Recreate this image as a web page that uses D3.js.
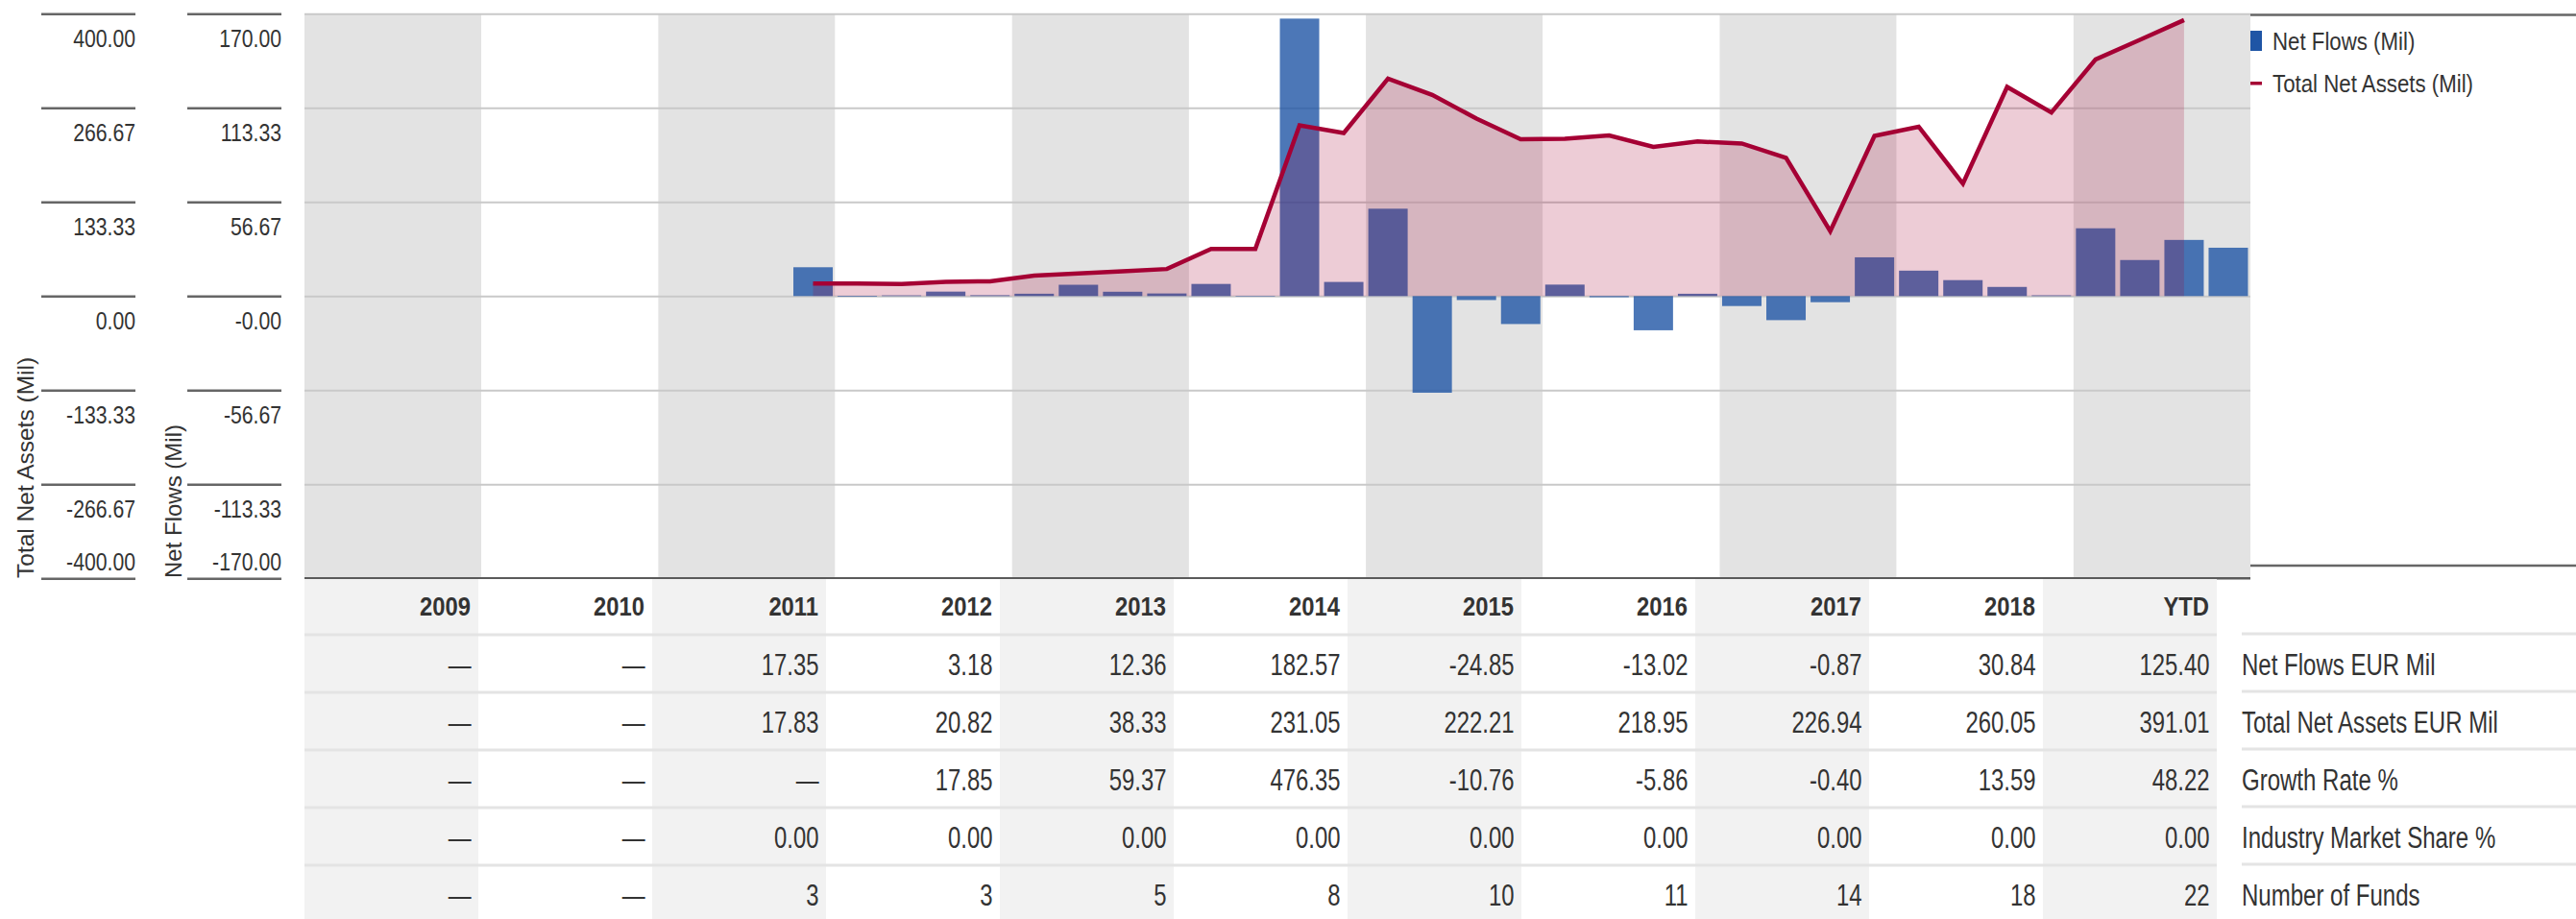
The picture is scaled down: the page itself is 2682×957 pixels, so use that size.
<!DOCTYPE html>
<html>
<head>
<meta charset="utf-8">
<script src="https://cdn.jsdelivr.net/npm/d3@7"></script>
<style>
  body { margin: 0; background: #fff; }
  svg text { font-family: "Liberation Sans", Arial, sans-serif; fill: #333; }
</style>
</head>
<body>
<div id="chart"></div>
<script>
// years shown as columns
var years = ["2009", "2010", "2011", "2012", "2013", "2014", "2015", "2016", "2017", "2018", "YTD"];

// quarterly net flows (EUR mil), one array of 4 per year
var netFlowsQ = [
  [null, null, null, null],
  [null, null, null, null],
  [null, null, null, 17.35],
  [-0.4, 0.4, 2.68, 0.5],
  [1.4, 6.8, 2.6, 1.56],
  [7.3, -0.3, 167.07, 8.5],
  [52.6, -58.2, -2.4, -16.85],
  [6.9, -0.7, -20.6, 1.38],
  [-6.0, -14.5, -3.7, 23.33],
  [15.3, 9.6, 5.5, 0.44],
  [40.8, 21.7, 33.8, 29.1]
];

// quarterly total net assets (EUR mil)
var tnaQ = [
  [null, null, null, null],
  [null, null, null, null],
  [null, null, null, 17.83],
  [17.6, 17.2, 20.3, 20.82],
  [29.0, 32.0, 35.0, 38.33],
  [66.8, 66.8, 242, 231.05],
  [308, 285, 251.5, 222.21],
  [222.7, 227.5, 211.4, 218.95],
  [216.2, 195.8, 92, 226.94],
  [239.9, 159.2, 296.4, 260.05],
  [335.3, 363, 391.01, null]
];

// axis ticks
var tnaTickValues = [400, 266.67, 133.33, 0, -133.33, -266.67, -400];
var tnaTickLabels = ["400.00", "266.67", "133.33", "0.00", "-133.33", "-266.67", "-400.00"];
var flowTickValues = [170, 113.33, 56.67, 0, -56.67, -113.33, -170];
var flowTickLabels = ["170.00", "113.33", "56.67", "-0.00", "-56.67", "-113.33", "-170.00"];

// table rows
var rowLabels = ["Net Flows EUR Mil", "Total Net Assets EUR Mil", "Growth Rate %", "Industry Market Share %", "Number of Funds"];
var tableNetFlows = ["—", "—", "17.35", "3.18", "12.36", "182.57", "-24.85", "-13.02", "-0.87", "30.84", "125.40"];
var tableTNA = ["—", "—", "17.83", "20.82", "38.33", "231.05", "222.21", "218.95", "226.94", "260.05", "391.01"];
var tableGrowth = ["—", "—", "—", "17.85", "59.37", "476.35", "-10.76", "-5.86", "-0.40", "13.59", "48.22"];
var tableShare = ["—", "—", "0.00", "0.00", "0.00", "0.00", "0.00", "0.00", "0.00", "0.00", "0.00"];
var tableFunds = ["—", "—", "3", "3", "5", "8", "10", "11", "14", "18", "22"];

var svgWidth = 2682;
var svgHeight = 957;

// plot area
var plot = { left: 317, right: 2343, top: 14.3, bottom: 602.3 };

var svg = d3.select("#chart")
  .append("svg")
  .attr("width", svgWidth)
  .attr("height", svgHeight);

// no condensed font installed, so squeeze Liberation Sans horizontally
function condensed(sel, x, y, sx) {
  sel.attr("x", 0).attr("y", 0)
    .attr("transform", `translate(${x}, ${y}) scale(${sx}, 1)`);
  return sel;
}

var xYear = d3.scaleBand()
  .domain(years)
  .range([plot.left, plot.right]);

var xQuarter = d3.scaleBand()
  .domain([0, 1, 2, 3])
  .range([0, xYear.bandwidth()])
  .paddingInner(0.11)
  .paddingOuter(0.055);

var yTna = d3.scaleLinear().domain([-400, 400]).range([plot.bottom, plot.top]);
var yFlow = d3.scaleLinear().domain([-170, 170]).range([plot.bottom, plot.top]);

// background bands
svg.append("g").selectAll("rect")
  .data(years)
  .enter()
  .append("rect")
  .attr("x", d => xYear(d))
  .attr("y", plot.top)
  .attr("width", xYear.bandwidth())
  .attr("height", plot.bottom - plot.top)
  .attr("fill", (d, i) => i % 2 === 0 ? "#e3e3e3" : "#ffffff");

// gridlines
var grid = svg.append("g")
  .attr("transform", `translate(${plot.left}, 0)`)
  .call(d3.axisLeft(yTna).tickValues(tnaTickValues.slice(0, 6)).tickSize(-(plot.right - plot.left)).tickFormat(""));
grid.select(".domain").remove();
grid.selectAll(".tick line").attr("stroke", "#c9c9c9").attr("stroke-width", 2);

// flatten quarterly data
var quarters = [];
years.forEach(function(y, i) {
  for (var q = 0; q < 4; q++) {
    quarters.push({ year: y, q: q, flow: netFlowsQ[i][q], tna: tnaQ[i][q] });
  }
});

function qCenter(d) {
  return xYear(d.year) + xQuarter(d.q) + xQuarter.bandwidth() / 2;
}

// net flow bars
svg.append("g").selectAll("rect")
  .data(quarters.filter(d => d.flow !== null))
  .enter()
  .append("rect")
  .attr("x", d => xYear(d.year) + xQuarter(d.q))
  .attr("width", xQuarter.bandwidth())
  .attr("y", d => yFlow(Math.max(0, d.flow)))
  .attr("height", d => Math.abs(yFlow(d.flow) - yFlow(0)))
  .attr("fill", "#1f55a5")
  .attr("opacity", 0.8);

// total net assets area + line
var tnaPoints = quarters.filter(d => d.tna !== null);

var area = d3.area()
  .x(qCenter)
  .y0(yTna(0))
  .y1(d => yTna(d.tna));

var line = d3.line()
  .x(qCenter)
  .y(d => yTna(d.tna));

svg.append("path")
  .datum(tnaPoints)
  .attr("d", area)
  .attr("fill", "#a50034")
  .attr("opacity", 0.2);

svg.append("path")
  .datum(tnaPoints)
  .attr("d", line)
  .attr("fill", "none")
  .attr("stroke", "#a50034")
  .attr("stroke-width", 4.5)
  .attr("stroke-linejoin", "miter");

// bottom line of the plot
svg.append("line")
  .attr("x1", plot.left).attr("x2", plot.right)
  .attr("y1", plot.bottom).attr("y2", plot.bottom)
  .attr("stroke", "#5a5a5a")
  .attr("stroke-width", 2.5);

// left axes (lines above labels)
function styleAxis(g) {
  g.attr("font-family", null).attr("font-size", null);
  g.select(".domain").remove();
  g.selectAll(".tick line").attr("stroke", "#666").attr("stroke-width", 2.5);
  g.selectAll(".tick text")
    .attr("dy", null)
    .attr("x", 0).attr("y", 0)
    .attr("transform", (d, i) => `translate(0, ${i === 6 ? -9 : 34}) scale(0.8, 1)`)
    .attr("font-size", "26.5px")
    .attr("fill", "#333");
}

var tnaAxis = svg.append("g")
  .attr("transform", "translate(141, 0)")
  .call(d3.axisLeft(yTna).tickValues(tnaTickValues).tickSize(98).tickFormat((d, i) => tnaTickLabels[i]));
styleAxis(tnaAxis);

var flowAxis = svg.append("g")
  .attr("transform", "translate(293, 0)")
  .call(d3.axisLeft(yFlow).tickValues(flowTickValues).tickSize(98).tickFormat((d, i) => flowTickLabels[i]));
styleAxis(flowAxis);

// axis titles
svg.append("text")
  .attr("transform", "translate(35, 602) rotate(-90)")
  .attr("font-size", "24.5px")
  .attr("fill", "#444")
  .text("Total Net Assets (Mil)");

svg.append("text")
  .attr("transform", "translate(189, 602) rotate(-90)")
  .attr("font-size", "24px")
  .attr("fill", "#444")
  .text("Net Flows (Mil)");

// legend
var legend = svg.append("g");
legend.append("line")
  .attr("x1", plot.right).attr("x2", svgWidth)
  .attr("y1", 15.5).attr("y2", 15.5)
  .attr("stroke", "#666").attr("stroke-width", 2.5);
legend.append("line")
  .attr("x1", plot.right).attr("x2", svgWidth)
  .attr("y1", 589).attr("y2", 589)
  .attr("stroke", "#666").attr("stroke-width", 2.5);
legend.append("rect")
  .attr("x", 2343).attr("y", 32).attr("width", 12).attr("height", 21)
  .attr("fill", "#1f55a5");
condensed(legend.append("text"), 2366, 52.3, 0.84)
  .attr("font-size", "26.5px")
  .text("Net Flows (Mil)");
legend.append("rect")
  .attr("x", 2343).attr("y", 85).attr("width", 12).attr("height", 3.5)
  .attr("fill", "#a50034");
condensed(legend.append("text"), 2366, 96, 0.84)
  .attr("font-size", "26.5px")
  .text("Total Net Assets (Mil)");

// data table
var table = { left: 317, colWidth: 181, top: 603, headerHeight: 58, rowHeight: 60 };
var tableRows = [tableNetFlows, tableTNA, tableGrowth, tableShare, tableFunds];
var tableG = svg.append("g");

tableG.selectAll(".col")
  .data(years)
  .enter()
  .append("rect")
  .attr("x", (d, i) => table.left + i * table.colWidth)
  .attr("y", table.top)
  .attr("width", table.colWidth)
  .attr("height", svgHeight - table.top)
  .attr("fill", (d, i) => i % 2 === 0 ? "#f2f2f2" : "#ffffff");

var tableRight = table.left + years.length * table.colWidth;

// row separators
for (var r = 0; r < tableRows.length; r++) {
  var sy = table.top + table.headerHeight + r * table.rowHeight;
  tableG.append("line")
    .attr("x1", table.left).attr("x2", tableRight)
    .attr("y1", sy).attr("y2", sy)
    .attr("stroke", "#e4e4e4").attr("stroke-width", 3);
  tableG.append("line")
    .attr("x1", 2334).attr("x2", svgWidth)
    .attr("y1", sy - 1).attr("y2", sy - 1)
    .attr("stroke", "#e4e4e4").attr("stroke-width", 3);
}

// header
years.forEach(function(y, i) {
  condensed(tableG.append("text"), table.left + (i + 1) * table.colWidth - 8, 640.7, 0.85)
    .attr("text-anchor", "end")
    .attr("font-size", "28px")
    .attr("font-weight", "bold")
    .text(y);
});

// values
tableRows.forEach(function(row, r) {
  var by = 703.3 + r * table.rowHeight;
  row.forEach(function(v, i) {
    condensed(tableG.append("text"), table.left + (i + 1) * table.colWidth - 7.5, by, 0.77)
      .attr("text-anchor", "end")
      .attr("font-size", "31px")
      .text(v);
  });

  condensed(tableG.append("text"), 2334, by, 0.775)
    .attr("font-size", "31px")
    .text(rowLabels[r]);
});
</script>
</body>
</html>
